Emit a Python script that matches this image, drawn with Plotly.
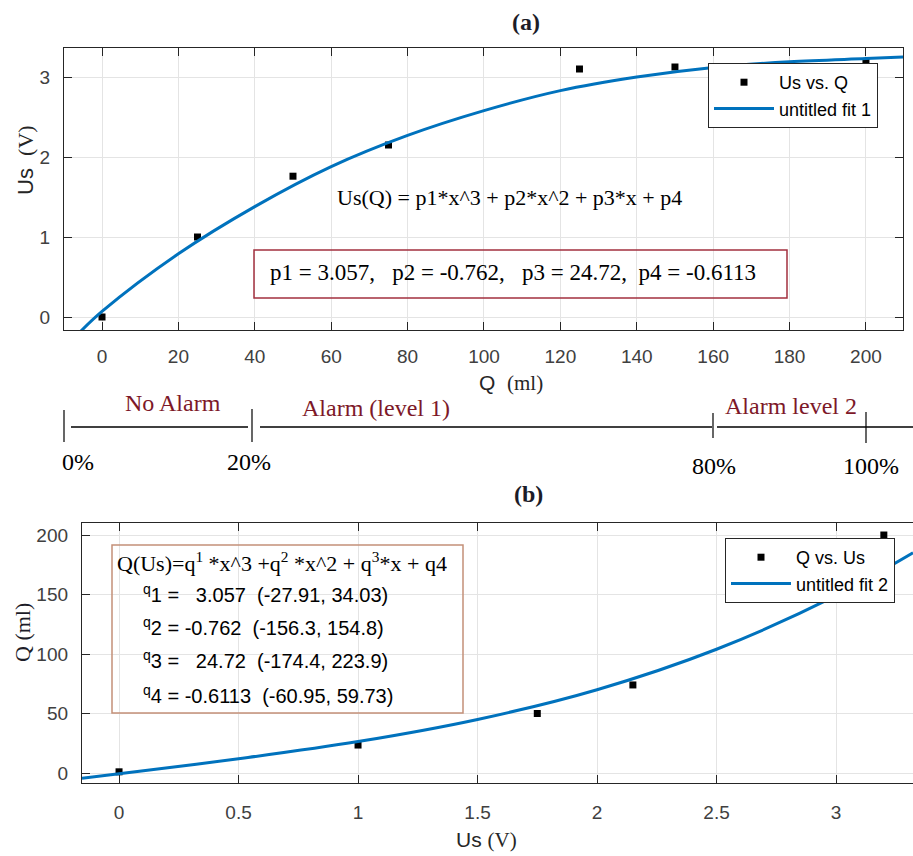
import plotly.graph_objects as go

W, H = 913, 856

# ---------------- data (a): Us vs Q ----------------
q_ml = [0, 25, 50, 75, 125, 150, 200]
us_v = [0.0, 1.0, 1.76, 2.15, 3.1, 3.125, 3.19]
# fit curve 1
fit1_q = [-5.8, 0, 20, 40, 60, 80, 100, 120, 140, 160, 180, 200, 210]
fit1_us = [-0.19, 0.07, 0.79, 1.38, 1.88, 2.27, 2.58, 2.83, 3.0, 3.12, 3.19, 3.23, 3.25]
p_names = ["p1", "p2", "p3", "p4"]
p_vals = ["3.057", "-0.762", "24.72", "-0.6113"]

# ---------------- data (b): Q vs Us ----------------
us_b = [0.0, 1.0, 1.75, 2.15, 3.2]
q_b = [1, 23.5, 50, 74, 200]
# fit curve 2
fit2_us = [-0.155, 0, 0.5, 1.0, 1.5, 2.0, 2.5, 3.0, 3.322]
fit2_q = [-4.4, -0.6, 12, 26.4, 45, 70, 104, 149, 185]
q_vals = ["3.057", "-0.762", "24.72", "-0.6113"]
q_ci = ["(-27.91, 34.03)", "(-156.3, 154.8)", "(-174.4, 223.9)", "(-60.95, 59.73)"]

# alarm scale
alarm_labels = ["No Alarm", "Alarm (level 1)", "Alarm level 2"]
pct_labels = ["0%", "20%", "80%", "100%"]

SANS = "Liberation Sans, Arial, sans-serif"
SERIF = "Liberation Serif, Times New Roman, serif"
AX = "#262626"
TICK = "#404040"
BLUE = "#0072BD"
MAROON = "#7d1828"


def px(x):
    return x / W


def py(y):
    return 1 - y / H


fig = go.Figure()

fig.add_trace(go.Scatter(x=q_ml, y=us_v, mode="markers", name="Us vs. Q",
                         marker=dict(symbol="square", size=7, color="black"),
                         xaxis="x", yaxis="y", legend="legend"))
fig.add_trace(go.Scatter(x=fit1_q, y=fit1_us, mode="lines", name="untitled fit 1",
                         line=dict(color=BLUE, width=3, shape="spline"),
                         xaxis="x", yaxis="y", legend="legend"))
fig.add_trace(go.Scatter(x=us_b, y=q_b, mode="markers", name="Q vs. Us",
                         marker=dict(symbol="square", size=7, color="black"),
                         xaxis="x2", yaxis="y2", legend="legend2"))
fig.add_trace(go.Scatter(x=fit2_us, y=fit2_q, mode="lines", name="untitled fit 2",
                         line=dict(color=BLUE, width=3, shape="spline"),
                         xaxis="x2", yaxis="y2", legend="legend2"))

axis_common = dict(showline=True, linecolor=AX, linewidth=1.3, ticks="inside",
                   ticklen=8, tickcolor=AX, showgrid=True, gridcolor="#e4e4e4",
                   gridwidth=1, zeroline=False,
                   tickfont=dict(family=SANS, size=19, color=TICK))

fig.update_layout(
    width=W, height=H, autosize=False,
    margin=dict(l=0, r=0, t=0, b=0),
    paper_bgcolor="white", plot_bgcolor="white",
    showlegend=True,
    xaxis=dict(domain=[px(64), px(903)], range=[-9.95, 209.7], anchor="y",
               tickvals=list(range(0, 201, 20)), mirror="ticks",
               ticklabelstandoff=9, **axis_common),
    yaxis=dict(domain=[py(330), py(48)], range=[-0.1625, 3.3625], anchor="x",
               tickvals=[0, 1, 2, 3], mirror="ticks",
               ticklabelstandoff=9, **axis_common),
    xaxis2=dict(domain=[px(82), 1.0], range=[-0.155, 3.322], anchor="y2",
                tickvals=[0, 0.5, 1, 1.5, 2, 2.5, 3], ticktext=["0", "0.5", "1", "1.5", "2", "2.5", "3"],
                mirror="ticks", ticklabelstandoff=12, **axis_common),
    yaxis2=dict(domain=[py(783), py(523)], range=[-8.4, 210.1], anchor="x2",
                tickvals=[0, 50, 100, 150, 200], mirror=False,
                ticklabelstandoff=9, **axis_common),
    legend=dict(x=px(708), y=py(63), xanchor="left", yanchor="top",
                bgcolor="white", bordercolor=AX, borderwidth=1,
                font=dict(family=SANS, size=18, color="black"),
                itemwidth=60, tracegroupgap=0),
    legend2=dict(x=px(725), y=py(538), xanchor="left", yanchor="top",
                 bgcolor="white", bordercolor=AX, borderwidth=1,
                 font=dict(family=SANS, size=18, color="black"),
                 itemwidth=60, tracegroupgap=0),
)

anns = []


def ann(x, y, text, size, family, color="black", xanchor="center", yanchor="middle", angle=0):
    anns.append(dict(x=px(x), y=py(y), xref="paper", yref="paper", text=text,
                     showarrow=False, xanchor=xanchor, yanchor=yanchor, textangle=angle,
                     font=dict(size=size, family=family, color=color)))


NB = "\u00a0"
# titles
ann(526, 22, "<b>(a)</b>", 24, SERIF, "#1c1c28")
ann(528, 494, "<b>(b)</b>", 24, SERIF, "#1c1c28")

# axis titles
ann(511, 383, "Q" + NB + NB + "<span style='font-family:Liberation Serif'>(ml)</span>", 21, SANS, AX)
ann(25, 160, "Us" + NB + NB + "<span style='font-family:Liberation Serif'>(V)</span>", 22, SANS, AX, angle=-90)
ann(486, 840, "Us" + NB + "<span style='font-family:Liberation Serif'>(V)</span>", 21, SANS, AX)
ann(22, 633, "Q (ml)", 22, SERIF, "#1c1c28", angle=-90)

# equation (a)
ann(509, 197, "Us(Q) = p1*x^3 + p2*x^2 + p3*x + p4", 22, SERIF, "black")
ptxt = (NB * 3).join(f"{n} = {v}," for n, v in zip(p_names[:3], p_vals[:3])) + NB * 2 + f"{p_names[3]} = {p_vals[3]}"
ann(513, 272, ptxt, 23, SERIF, "black")

# box (b) text
ann(115, 562, "Q(Us)=q<sup>1</sup> *x^3 +q<sup>2</sup> *x^2 + q<sup>3</sup>*x + q4", 22, SERIF, "black", xanchor="left")
line_y = [593, 626, 659, 694]
for i, (v, ci) in enumerate(zip(q_vals, q_ci)):
    pad = NB * 3 if not v.startswith("-") else NB
    ann(141, line_y[i], f"<sup>q</sup>{i+1} ={pad}{v}{NB}{NB}{ci}", 20, SANS, "black", xanchor="left")

# alarm scale labels
ann(173, 403, alarm_labels[0], 24, SERIF, MAROON)
ann(376, 408, alarm_labels[1], 24, SERIF, MAROON)
ann(791, 406, alarm_labels[2], 24, SERIF, MAROON)
ann(78, 462, pct_labels[0], 24, SERIF, "black")
ann(249, 462, pct_labels[1], 24, SERIF, "black")
ann(714, 466, pct_labels[2], 24, SERIF, "black")
ann(871, 466, pct_labels[3], 24, SERIF, "black")

shapes = []


def line(x0, y0, x1, y1, color="black", width=1.3):
    shapes.append(dict(type="line", xref="paper", yref="paper", x0=px(x0), y0=py(y0),
                       x1=px(x1), y1=py(y1), line=dict(color=color, width=width)))


def rect(x0, y0, x1, y1, color, width=1.3):
    shapes.append(dict(type="rect", xref="paper", yref="paper", x0=px(x0), y0=py(y0),
                       x1=px(x1), y1=py(y1), line=dict(color=color, width=width),
                       fillcolor="rgba(0,0,0,0)"))


# alarm bar
line(71, 427, 248, 427, width=1.6)
line(260, 427, 712, 427, width=1.6)
line(717, 427, 913, 427, width=1.6)
for tx, (t0, t1) in zip([64, 252, 713, 866], [(410, 442), (409, 442), (413, 438), (412, 443)]):
    line(tx, t0, tx, t1, width=1.2)

# parameter boxes
rect(254, 250, 787, 298, "#a3303f", 1.5)
rect(112, 545, 463, 713, "#c49078", 1.5)

fig.update_layout(annotations=anns, shapes=shapes)

fig.write_html("out.html")
